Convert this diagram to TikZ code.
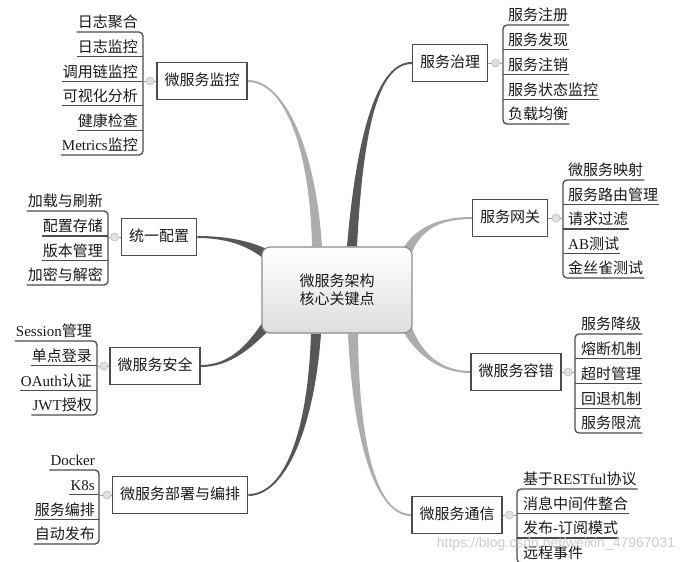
\documentclass[tikz,border=0pt]{standalone}
\usepackage{fontspec}
\setmainfont{Noto Sans CJK SC}
\newfontfamily\lat{Liberation Serif}
\newfontfamily\wmfont{Liberation Sans}
\usetikzlibrary{calc}
\pgfdeclarelayer{bg}
\pgfsetlayers{bg,main}
\newcommand\tarm[7]{\fill[#1] ($#2+#6$) .. controls ($#3+0.6*#6$) and ($#4+#7$) .. ($#5+#7$) -- ($#5-#7$) .. controls ($#4-#7$) and ($#3-0.6*#6$) .. ($#2-#6$) -- cycle;}
\tikzset{
 txt/.style={font=\fontsize{15}{18}\selectfont, text=black!90},
 leaf/.style={txt, inner xsep=1pt, inner ysep=0pt, text height=11pt, text depth=4pt},
 uline/.style={draw=black!70, line width=1.3pt, rounded corners=4pt},
 branch/.style={txt, draw=black!70, line width=1.5pt, fill=white, inner xsep=7.5pt, inner ysep=0pt, minimum height=37pt, text height=11pt, text depth=3pt},
 hub/.style={txt, draw=black!45, line width=1.2pt, rounded corners=8pt, top color=white, bottom color=black!13, minimum width=150pt, minimum height=86pt, align=center},
 knob/.style={circle, fill=black!12, draw=black!25, line width=0.6pt, minimum size=8pt, inner sep=0pt},
 stem/.style={draw=black!40, line width=1pt},
 darkarm/.style={fill=black!66},
 lightarm/.style={fill=black!32},
}
\begin{document}
\begin{tikzpicture}[x=1pt,y=-1pt]
\useasboundingbox (0,0) rectangle (699,562);
\clip (0,0) rectangle (699,562);

% hub and branches
\node[hub] (c) at (337,290) {微服务架构\\核心关键点};
\node[branch] (mon) at (202,81) {微服务监控};
\node[branch] (cfg) at (159,237) {统一配置};
\node[branch] (sec) at (155,366) {微服务安全};
\node[branch] (dep) at (180,495) {微服务部署与编排};
\node[branch] (gov) at (450,63) {服务治理};
\node[branch] (net) at (510,218) {服务网关};
\node[branch] (tol) at (516,372) {微服务容错};
\node[branch] (com) at (457,515) {微服务通信};

% arm start points (inside/at the hub)
\coordinate (sMon) at ($(c.north)+(-20,0)$);
\coordinate (sGov) at ($(c.north)+(15,0)$);
\coordinate (sNet) at ($(c.north east)+(-6,6)$);
\coordinate (sCfg) at ($(c.north west)+(5,8)$);
\coordinate (sSec) at ($(c.south west)+(5,-8)$);
\coordinate (sDep) at ($(c.south)+(-21,0)$);
\coordinate (sCom) at ($(c.south)+(16,0)$);
\coordinate (sTol) at ($(c.south east)+(-6,-6)$);

\begin{pgfonlayer}{bg}
\fill[white] (0,0) rectangle (699,562);
\tarm{lightarm}{(sMon)}{(313,150)}{(285,81)}{(mon.east)}{(-5,0)}{(0,1)}
\tarm{darkarm}{(sGov)}{(360,130)}{(378,63)}{(gov.west)}{(-5,0)}{(0,-1)}
\tarm{lightarm}{(sNet)}{(418,228)}{(440,218)}{(net.west)}{(-4.5,-2.2)}{(0,-1)}
\tarm{darkarm}{(sCfg)}{(250,244)}{(228,237)}{(cfg.east)}{(-2.7,4.2)}{(0,1)}
\tarm{darkarm}{(sSec)}{(252,343)}{(232,366)}{(sec.east)}{(3.8,3.2)}{(0,1)}
\tarm{darkarm}{(sDep)}{(311,430)}{(285,495)}{(dep.east)}{(5,0)}{(0,1)}
\tarm{lightarm}{(sCom)}{(356,440)}{(375,515)}{(com.west)}{(5,0)}{(0,-1)}
\tarm{lightarm}{(sTol)}{(417,350)}{(437,372)}{(tol.west)}{(4.5,-2.2)}{(0,-1)}
\end{pgfonlayer}

% ---- 微服务监控 leaves (left)
\coordinate (mb) at (143,0);
\node[leaf, anchor=south east] (m1) at (139,32) {日志聚合};
\node[leaf, anchor=south east] (m2) at (139,56.6) {日志监控};
\node[leaf, anchor=south east] (m3) at (139,81.2) {调用链监控};
\node[leaf, anchor=south east] (m4) at (139,105.8) {可视化分析};
\node[leaf, anchor=south east] (m5) at (139,130.4) {健康检查};
\node[leaf, anchor=south east] (m6) at (139,155) {{\lat Metrics}监控};
\draw[uline] (m1.south west) -- (m1.south -| mb) -- (m6.south -| mb) -- (m6.south west);
\foreach \i in {2,...,5} \draw[uline] (m\i.south west) -- (m\i.south -| mb);
\node[knob] (mk) at (150,81) {};
\draw[stem] (mon.west) -- (mk) -- (mk -| mb);

% ---- 统一配置 leaves (left)
\coordinate (fb) at (108,0);
\node[leaf, anchor=south east] (f1) at (104,211) {加载与刷新};
\node[leaf, anchor=south east] (f2) at (104,236) {配置存储};
\node[leaf, anchor=south east] (f3) at (104,260.5) {版本管理};
\node[leaf, anchor=south east] (f4) at (104,285) {加密与解密};
\draw[uline] (f1.south west) -- (f1.south -| fb) -- (f4.south -| fb) -- (f4.south west);
\foreach \i in {2,3} \draw[uline] (f\i.south west) -- (f\i.south -| fb);
\node[knob] (fk) at (114.5,237) {};
\draw[stem] (cfg.west) -- (fk) -- (fk -| fb);

% ---- 微服务安全 leaves (left)
\coordinate (ab) at (97,0);
\node[leaf, anchor=south east] (a1) at (93,341) {{\lat Session}管理};
\node[leaf, anchor=south east] (a2) at (93,365.7) {单点登录};
\node[leaf, anchor=south east] (a3) at (93,390.3) {{\lat OAuth}认证};
\node[leaf, anchor=south east] (a4) at (93,415) {{\lat JWT}授权};
\draw[uline] (a1.south west) -- (a1.south -| ab) -- (a4.south -| ab) -- (a4.south west);
\foreach \i in {2,3} \draw[uline] (a\i.south west) -- (a\i.south -| ab);
\node[knob] (ak) at (104,366) {};
\draw[stem] (sec.west) -- (ak) -- (ak -| ab);

% ---- 微服务部署与编排 leaves (left)
\coordinate (db) at (99,0);
\node[leaf, anchor=south east] (d1) at (96,470) {\lat Docker};
\node[leaf, anchor=south east] (d2) at (96,494.7) {\lat K8s};
\node[leaf, anchor=south east] (d3) at (96,519.3) {服务编排};
\node[leaf, anchor=south east] (d4) at (96,544) {自动发布};
\draw[uline] (d1.south west) -- (d1.south -| db) -- (d4.south -| db) -- (d4.south west);
\foreach \i in {2,3} \draw[uline] (d\i.south west) -- (d\i.south -| db);
\node[knob] (dk) at (107,495) {};
\draw[stem] (dep.west) -- (dk) -- (dk -| db);

% ---- 服务治理 leaves (right)
\coordinate (gb) at (503,0);
\node[leaf, anchor=south west] (g1) at (507,25) {服务注册};
\node[leaf, anchor=south west] (g2) at (507,49.75) {服务发现};
\node[leaf, anchor=south west] (g3) at (507,74.5) {服务注销};
\node[leaf, anchor=south west] (g4) at (507,99.25) {服务状态监控};
\node[leaf, anchor=south west] (g5) at (507,124) {负载均衡};
\draw[uline] (g1.south east) -- (g1.south -| gb) -- (g5.south -| gb) -- (g5.south east);
\foreach \i in {2,3,4} \draw[uline] (g\i.south east) -- (g\i.south -| gb);
\node[knob] (gk) at (495.5,63) {};
\draw[stem] (gov.east) -- (gk) -- (gk -| gb);

% ---- 服务网关 leaves (right)
\coordinate (nb) at (563,0);
\node[leaf, anchor=south west] (n1) at (567,180) {微服务映射};
\node[leaf, anchor=south west] (n2) at (567,204.5) {服务路由管理};
\node[leaf, anchor=south west] (n3) at (567,229) {请求过滤};
\node[leaf, anchor=south west] (n4) at (567,253.5) {{\lat AB}测试};
\node[leaf, anchor=south west] (n5) at (567,278) {金丝雀测试};
\draw[uline] (n1.south east) -- (n1.south -| nb) -- (n5.south -| nb) -- (n5.south east);
\foreach \i in {2,3,4} \draw[uline] (n\i.south east) -- (n\i.south -| nb);
\node[knob] (nk) at (556,218) {};
\draw[stem] (net.east) -- (nk) -- (nk -| nb);

% ---- 微服务容错 leaves (right)
\coordinate (tb) at (575,0);
\node[leaf, anchor=south west] (t1) at (580,334) {服务降级};
\node[leaf, anchor=south west] (t2) at (580,358.75) {熔断机制};
\node[leaf, anchor=south west] (t3) at (580,383.5) {超时管理};
\node[leaf, anchor=south west] (t4) at (580,408.25) {回退机制};
\node[leaf, anchor=south west] (t5) at (580,433) {服务限流};
\draw[uline] (t1.south east) -- (t1.south -| tb) -- (t5.south -| tb) -- (t5.south east);
\foreach \i in {2,3,4} \draw[uline] (t\i.south east) -- (t\i.south -| tb);
\node[knob] (tk) at (568,372) {};
\draw[stem] (tol.east) -- (tk) -- (tk -| tb);

% ---- 微服务通信 leaves (right)
\coordinate (cb) at (517,0);
\node[leaf, anchor=south west] (k1) at (522,489) {基于{\lat RESTful}协议};
\node[leaf, anchor=south west] (k2) at (522,513.5) {消息中间件整合};
\node[leaf, anchor=south west] (k3) at (522,538) {发布{\lat -}订阅模式};
\node[leaf, anchor=south west] (k4) at (522,563) {远程事件};
\draw[uline] (k1.south east) -- (k1.south -| cb) -- (k4.south -| cb) -- (k4.south east);
\foreach \i in {2,3} \draw[uline] (k\i.south east) -- (k\i.south -| cb);
\node[knob] (ck) at (509.5,515) {};
\draw[stem] (com.east) -- (ck) -- (ck -| cb);

% watermark
\node[font=\wmfont\fontsize{14}{16}\selectfont, text=black!20, inner sep=0pt] (wm) at (556,544) {https://blog.csdn.net/weixin\_47967031};
\end{tikzpicture}
\end{document}
